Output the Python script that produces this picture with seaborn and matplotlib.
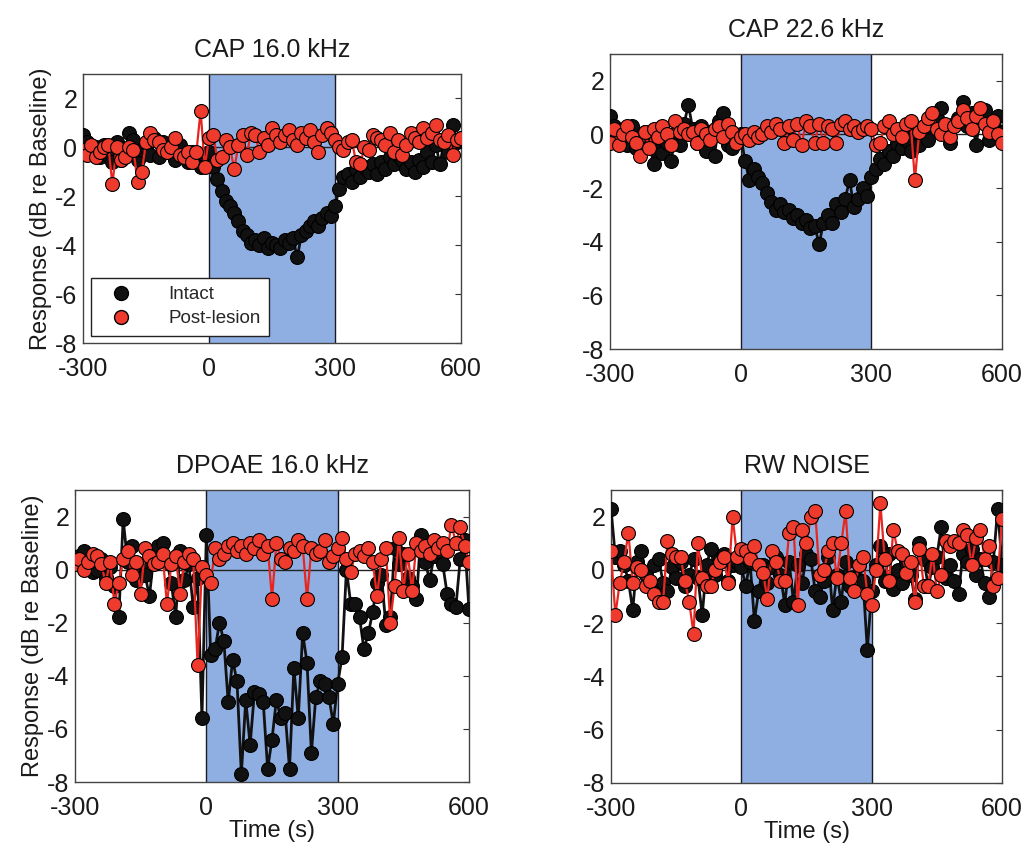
import numpy as np
import pandas as pd
import matplotlib
matplotlib.use("Agg")
import matplotlib.pyplot as plt
from matplotlib.lines import Line2D
import seaborn as sns

# ---------------- data ----------------
time_s = list(range(-300, 601, 10))

cap16_intact = [
    0.5, 0.2, -0.2, 0.0, -0.4, 0.1, -0.3, -0.6, 0.2, -0.5,
    -0.2, 0.6, 0.3, -0.5, -0.1, 0.0, -0.3, 0.4, -0.4, 0.2,
    -0.2, -0.1, -0.5, 0.1, -0.3, -0.6, -0.2, -0.4, -0.8, -0.3,
    -0.2, -0.8, -1.3, -1.8, -2.2, -2.4, -2.7, -3.0, -3.4, -3.6,
    -3.9, -3.8, -4.0, -3.7, -4.1, -3.9, -4.0, -4.1, -3.8, -3.9,
    -3.7, -4.5, -3.6, -3.4, -3.2, -3.0, -3.2, -2.9, -2.7, -2.8,
    -2.4, -1.7, -1.2, -1.1, -1.4, -0.9, -1.2, -0.8, -1.0, -0.7,
    -1.1, -0.6, -0.9, -0.4, -0.7, -0.3, -0.5, -0.9, -0.6, -1.0,
    -0.5, -0.8, -0.2, -0.6, 0.1, -0.7, 0.3, -0.2, 0.9, 0.2,
    0.4]
cap16_lesion = [
    -0.1, -0.3, 0.1, -0.4, -0.2, 0.0, 0.1, -1.5, 0.0, -0.5,
    -0.4, 0.0, -0.1, -1.4, -1.0, 0.2, 0.6, 0.3, 0.2, -0.1,
    -0.2, 0.0, 0.4, -0.3, -0.4, -0.2, -0.6, -0.2, 1.5, -0.8,
    0.4, 0.5, -0.5, -0.4, 0.3, 0.0, -0.9, 0.1, 0.5, -0.3,
    0.6, 0.5, -0.2, 0.4, 0.1, 0.8, 0.5, 0.2, 0.5, 0.7,
    0.3, 0.1, 0.6, 0.4, 0.7, 0.2, -0.2, 0.5, 0.8, 0.6,
    0.3, 0.0, -0.1, 0.2, 0.3, -0.6, -0.7, 0.0, -0.1, 0.5,
    0.4, 0.3, 0.1, 0.6, -0.2, 0.3, -0.3, 0.1, 0.6, 0.4,
    0.2, 0.8, 0.4, 0.6, 0.9, 0.3, 0.2, 0.5, -0.3, 0.3,
    0.4]

cap22_intact = [
    0.7, 0.3, -0.2, 0.1, -0.4, 0.3, -0.5, -0.2, 0.1, -0.3,
    -1.1, -0.6, -0.7, -0.3, -1.0, 0.0, -0.4, 0.4, 1.1, 0.2,
    -0.3, 0.3, -0.6, 0.1, -0.8, 0.5, 0.8, -0.4, -0.5, -0.1,
    0.0, -1.0, -1.7, -1.3, -1.6, -1.8, -2.2, -2.5, -2.8, -2.6,
    -2.9, -2.8, -3.1, -3.0, -3.3, -3.2, -3.5, -3.4, -4.1, -3.3,
    -3.0, -3.3, -2.6, -2.9, -2.4, -1.7, -2.7, -2.4, -2.0, -2.3,
    -1.6, -1.3, -0.9, -1.1, -0.6, -0.8, -0.3, -0.5, -0.2, -0.6,
    0.1, -0.4, 0.3, -0.2, 0.5, 0.6, 1.0, 0.2, -0.3, 0.4,
    0.6, 1.2, 0.3, 0.8, -0.4, 0.5, 0.9, -0.2, 0.4, 0.7,
    0.1]
cap22_lesion = [
    -0.3, 0.2, -0.4, 0.0, 0.3, -0.1, -0.3, -0.8, 0.1, -0.5,
    0.2, -0.1, 0.3, 0.0, -0.4, 0.5, 0.1, 0.2, 0.0, 0.1,
    -0.3, 0.2, 0.0, -0.2, 0.2, 0.3, -0.1, 0.4, 0.1, -0.3,
    -0.1, 0.0, -0.2, 0.1, -0.1, 0.0, 0.3, 0.1, 0.4, 0.2,
    -0.3, 0.3, -0.2, 0.4, -0.4, 0.5, 0.3, -0.3, 0.4, -0.3,
    0.3, 0.2, -0.3, 0.4, 0.5, 0.2, 0.3, 0.1, 0.2, 0.3,
    0.2, -0.4, -0.3, 0.3, 0.5, 0.0, 0.2, -0.1, 0.4, 0.5,
    -1.7, 0.1, 0.3, 0.6, 0.8, 0.2, 0.0, 0.4, -0.1, 0.3,
    0.5, 0.9, 0.6, 0.2, 0.7, 1.0, 0.4, 0.1, 0.5, 0.0,
    -0.3]

dpoae_intact = [
    0.3, 0.5, 0.7, 0.2, -0.1, 0.0, 0.4, -0.3, 0.1, -0.6,
    -1.8, 1.9, 0.3, 0.9, -0.4, 0.2, -0.2, -1.0, 0.5, 0.9,
    1.0, 0.3, -0.5, -1.8, 0.7, -0.4, 0.2, -1.4, -0.3, -5.6,
    1.3, -3.2, -3.0, -2.0, -2.7, -5.0, -3.4, -4.2, -7.7, -4.9,
    -6.6, -4.6, -4.7, -5.0, -7.5, -6.4, -4.9, -5.6, -5.4, -7.5,
    -3.7, -5.6, -2.4, -3.5, -6.9, -4.8, -4.2, -4.3, -4.8, -5.8,
    -4.3, -3.3, 0.0, -1.3, -1.3, -1.8, -3.0, -2.4, -1.6, -0.5,
    -0.2, -2.1, -1.8, 0.8, 0.2, 0.6, -0.3, -0.6, -1.1, 1.3,
    0.3, -0.4, 0.5, 0.7, 0.2, -0.9, -1.3, -1.4, 0.4, 1.1,
    -1.5]
dpoae_lesion = [
    0.2, 0.4, 0.0, 0.3, 0.6, 0.5, 0.2, -0.5, 0.3, -1.3,
    -0.5, 0.4, 0.7, -0.2, 0.3, -0.9, 0.8, 0.5, 0.2, 0.3,
    0.6, -1.3, 0.2, 0.5, -0.9, 0.3, 0.6, 0.4, -3.6, 0.1,
    -0.2, -0.5, 0.8, 0.4, 0.6, 0.9, 1.0, 0.7, 0.9, 0.6,
    1.0, 0.8, 1.1, 0.6, 0.9, -1.1, 1.0, 0.4, 0.3, 0.8,
    0.7, 1.1, 0.9, -1.1, 0.8, 0.6, 0.7, 1.1, 0.3, 0.5,
    0.8, 1.2, 0.4, -0.1, 0.6, 0.7, 0.5, 0.8, 0.3, -1.0,
    0.4, 0.8, -2.0, -0.6, 1.2, -0.8, 0.6, -0.8, 1.0, 0.7,
    0.9, 0.6, 1.1, 0.8, 1.0, 0.7, 1.7, 1.0, 1.6, 0.9,
    0.3]

rw_intact = [
    2.3, 0.5, 0.7, 0.2, -0.4, -1.5, 0.3, 0.7, -0.2, -0.6,
    0.2, 0.4, -0.5, -0.8, 0.1, -0.3, 0.3, -0.6, -0.2, 0.4,
    -0.3, -1.7, 0.2, 0.8, -0.2, 0.4, 0.6, -0.4, 0.2, 0.3,
    0.1, -0.6, 0.3, -1.9, -0.8, 0.2, -0.5, 0.1, 0.5, -0.2,
    -1.3, 0.3, -1.2, 0.2, -0.5, 0.6, 0.4, -0.8, -1.0, -0.4,
    0.5, -1.5, -0.2, -1.2, 0.3, -0.6, -0.3, 0.2, -0.4, -3.0,
    -0.8, 0.2, 0.9, -0.4, 0.6, -0.7, 0.0, -0.5, 0.3, -0.2,
    -1.1, 1.0, 0.4, -0.6, 0.1, 0.5, 1.6, -0.3, 0.2, -0.4,
    -0.9, 0.6, 0.3, 0.8, -0.2, 0.4, -0.5, -1.0, 0.3, 2.3,
    0.2]
rw_lesion = [
    0.7, -1.7, -0.5, 0.3, 1.4, -0.5, 0.1, 0.0, -0.6, -0.4,
    -0.9, -1.2, -1.2, 1.1, 0.6, 0.5, 0.5, -0.4, -1.2, -2.4,
    1.0, -0.3, -0.6, -0.6, 0.0, 0.3, 0.5, -0.5, 2.0, 0.5,
    0.8, 0.7, 0.4, 0.9, 0.2, -0.1, -1.1, 0.7, 0.3, -0.4,
    -0.4, 1.4, 1.6, -1.3, 1.5, 1.0, 2.0, 2.2, -0.2, 0.0,
    0.7, 1.0, -0.3, 1.0, 2.2, -0.3, -0.8, 0.2, 0.5, -0.9,
    -1.3, 0.0, 2.5, 0.4, -0.4, 1.5, 0.7, 0.6, -0.1, 0.3,
    -1.2, 0.8, -0.6, -0.6, 0.6, -0.8, -0.2, 1.1, 0.9, 1.1,
    1.0, 1.5, 1.3, 0.2, 1.2, 1.5, 0.4, 0.9, -0.6, -0.3,
    1.9]

titles = ["CAP 16.0 kHz", "CAP 22.6 kHz", "DPOAE 16.0 kHz", "RW NOISE"]
series_labels = ["Intact", "Post-lesion"]
x_ticks = [-300, 0, 300, 600]
y_ticks = [2, 0, -2, -4, -6, -8]
stim_window = (0, 300)

panels = [
    (cap16_intact, cap16_lesion),
    (cap22_intact, cap22_lesion),
    (dpoae_intact, dpoae_lesion),
    (rw_intact, rw_lesion),
]

# ---------------- style ----------------
sns.set_style("white")
plt.rcParams["font.family"] = ["Liberation Sans", "DejaVu Sans"]

fig = plt.figure(figsize=(10.24, 8.48), dpi=100)
H = 848.0
W = 1024.0
boxes = [  # left, top, right, bottom in pixels
    (83, 74, 461, 343),
    (610, 54, 1002, 349),
    (75, 490, 469, 782),
    (611, 490, 1002, 783),
]

black = "#111111"
red_line = "#e8251f"
red_face = "#ee3b2d"
shade = "#8fafe2"

for i, ((bl, br), box) in enumerate(zip(panels, boxes)):
    l, t, r, b = box
    ax = fig.add_axes([l / W, 1 - b / H, (r - l) / W, (b - t) / H])
    ax.axvspan(stim_window[0], stim_window[1], color=shade, zorder=0, lw=0)
    ax.axvline(stim_window[0], color="#1a1a2a", lw=1.0, zorder=1)
    ax.axvline(stim_window[1], color="#1a1a2a", lw=1.0, zorder=1)
    ax.axhline(0, color="#222222", lw=1.0, zorder=1)

    df = pd.DataFrame({"t": time_s, "intact": bl, "lesion": br})
    sns.lineplot(data=df, x="t", y="intact", ax=ax, color=black, lw=2.0,
                 marker="o", markersize=10, markerfacecolor=black,
                 markeredgecolor="black", markeredgewidth=0.8,
                 estimator=None, errorbar=None, sort=False, zorder=3)
    sns.lineplot(data=df, x="t", y="lesion", ax=ax, color=red_line, lw=1.6,
                 marker="o", markersize=10, markerfacecolor=red_face,
                 markeredgecolor="black", markeredgewidth=0.8,
                 estimator=None, errorbar=None, sort=False, zorder=4)

    ax.set_xlim(-300, 600)
    ax.set_ylim(-8, 3)
    ax.set_xticks(x_ticks)
    ax.set_yticks(y_ticks)
    ax.set_xticklabels([str(v) for v in x_ticks])
    ax.set_yticklabels([str(v) for v in y_ticks])
    ax.tick_params(direction="in", length=4, width=0.8, labelsize=18,
                   top=True, right=True, colors="#333333", labelcolor="#1a1a1a")
    ax.tick_params(axis="x", pad=10)
    ax.tick_params(axis="y", pad=4)
    for sp in ax.spines.values():
        sp.set_color("#444444")
        sp.set_linewidth(1.0)
        sp.set_visible(True)
    ax.set_title(titles[i], fontsize=18, pad=12, color="#1a1a1a")
    if i in (0, 2):
        ax.set_ylabel("Response (dB re Baseline)", fontsize=17, color="#1a1a1a",
                      labelpad=2)
    else:
        ax.set_ylabel("")
    if i in (2, 3):
        ax.set_xlabel("Time (s)", fontsize=17, color="#1a1a1a", labelpad=0)
    else:
        ax.set_xlabel("")
    ax.set_facecolor("white")

    if i == 0:
        handles = [
            Line2D([], [], ls="none", marker="o", markersize=10,
                   markerfacecolor=black, markeredgecolor="black"),
            Line2D([], [], ls="none", marker="o", markersize=10,
                   markerfacecolor=red_face, markeredgecolor="black"),
        ]
        leg = ax.legend(handles, series_labels, loc="lower left",
                        bbox_to_anchor=(0.0, 0.0), fontsize=13.5,
                        frameon=True, fancybox=False, framealpha=1,
                        edgecolor="#222222", handletextpad=1.4,
                        borderpad=0.45, labelspacing=0.35, handlelength=2.3,
                        borderaxespad=0.4)
        leg.get_frame().set_linewidth(1.0)
        leg.set_zorder(10)

fig.savefig("out.png", dpi=100, facecolor="white")
